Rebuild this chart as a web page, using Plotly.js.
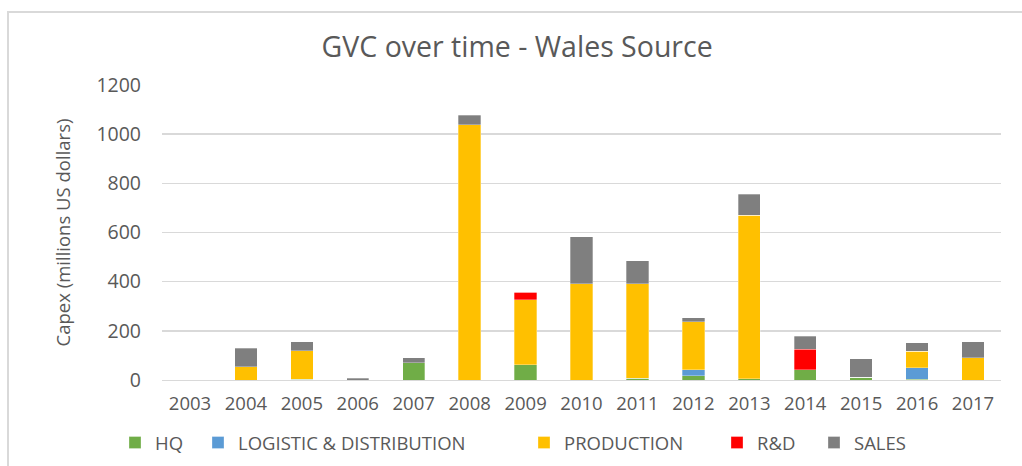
<!DOCTYPE html>
<html>
<head>
<meta charset="utf-8">
<script src="https://cdn.plot.ly/plotly-3.0.1.min.js"></script>
<style>
  html, body { margin: 0; padding: 0; background: #fff; }
  #chart { width: 1022px; height: 466px; }
  #frame { position: absolute; left: 7px; top: 11px; width: 1030px; height: 470px;
           border-left: 2px solid #D9D9D9; border-top: 2px solid #D9D9D9; pointer-events: none; }
</style>
</head>
<body>
<div id="chart"></div>
<div id="frame"></div>
<script>
const years = ["2003","2004","2005","2006","2007","2008","2009","2010","2011","2012","2013","2014","2015","2016","2017"];
const hq         = [0, 0, 4, 0, 70, 0, 62, 0, 8, 17, 5, 41, 12, 3, 0];
const logistic   = [0, 0, 0, 0, 0, 0, 0, 0, 0, 24, 0, 0, 0, 47, 0];
const production = [0, 54, 116, 0, 0, 1039, 265, 392, 384, 196, 665, 0, 0, 67, 91];
const rnd        = [0, 0, 0, 0, 0, 0, 29, 0, 0, 0, 0, 85, 0, 0, 0];
const sales      = [0, 76, 36, 8, 21, 38, 0, 190, 93, 16, 85, 51, 75, 35, 65];
const yTicks = [0, 200, 400, 600, 800, 1000, 1200];

const font = "Open Sans, sans-serif";
const txt = "#595959";

const W = 1022, H = 466, ML = 162, MR = 21, MT = 85, MB = 86;
const legendTextStart = [155, 238, 564, 757, 854];
const legendOffset = 40;
const legendY = 443;

function series(name, vals, color, i) {
  return { type: "bar", name: name, x: years, y: vals,
           legend: i === 0 ? "legend" : "legend" + (i + 1),
           marker: { color: color, line: { color: "rgba(255,255,255,0.6)", width: 0.5 } },
           hoverinfo: "x+y+name" };
}

const names = ["HQ", "LOGISTIC & DISTRIBUTION", "PRODUCTION", "R&D", "SALES"];
const colors = ["#70AD47", "#5B9BD5", "#FFC000", "#FF0000", "#7F7F7F"];
const vals = [hq, logistic, production, rnd, sales];
const data = names.map((n, i) => series(n, vals[i], colors[i], i));

const layout = {
  width: W, height: H,
  margin: { l: ML, r: MR, t: MT, b: MB },
  barmode: "stack",
  bargap: 0.6,
  paper_bgcolor: "#fff", plot_bgcolor: "#fff",
  font: { family: font, color: txt, size: 18 },
  title: { text: "GVC over time - Wales Source", font: { family: font, size: 28.5, color: txt },
           x: 0.506, xanchor: "center", y: 0.9, yanchor: "middle" },
  xaxis: { type: "category", tickfont: { size: 18.5, color: txt }, showgrid: false, automargin: false,
           showline: true, linecolor: "#D9D9D9", linewidth: 1, ticks: "", ticklen: 0, ticklabelstandoff: 7 },
  yaxis: { range: [0, 1200], tickvals: yTicks, ticktext: yTicks.map(String), automargin: false,
           tickfont: { size: 19.5, color: txt }, gridcolor: "#D9D9D9", gridwidth: 1.5,
           zeroline: false, showline: false, ticks: "", ticklabelstandoff: 20,
           title: { text: "Capex (millions US dollars)", font: { size: 18.5, color: txt }, standoff: 20 } },
  showlegend: true
};

names.forEach((n, i) => {
  const key = i === 0 ? "legend" : "legend" + (i + 1);
  layout[key] = {
    orientation: "h", xref: "container", yref: "container",
    xanchor: "left", yanchor: "middle",
    x: (legendTextStart[i] - legendOffset) / W,
    y: 1 - legendY / H,
    font: { size: 18.5, color: txt }, itemwidth: 30, bgcolor: "rgba(0,0,0,0)"
  };
});

Plotly.newPlot("chart", data, layout, { displayModeBar: false, staticPlot: true });
</script>
</body>
</html>
